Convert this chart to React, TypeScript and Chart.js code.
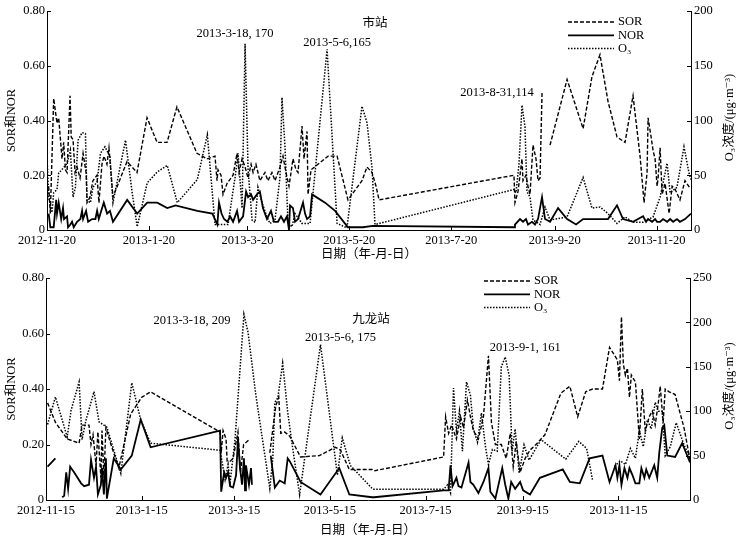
import React, { useEffect, useRef } from 'react';
import { Chart, registerables } from 'chart.js';

Chart.register(...registerables);

type Pt = [number, number | null];

interface Peak {
  text: string;
  day: number;
  value: number;
}

// 市站: x = days since 2012-11-20
const cityTickDays = [0, 61, 120, 181, 242, 304, 365];
const cityTickLabels = ['2012-11-20', '2013-1-20', '2013-3-20', '2013-5-20', '2013-7-20', '2013-9-20', '2013-11-20'];

const citySor: Pt[] = [
  [1, 0.16], [2, 0.06], [4, 0.48], [6, 0.39], [7, 0.41], [9, 0.26], [10, 0.32], [11, 0.22], [12, 0.21],
  [13.8, 0.49], [14.5, 0.34], [15.6, 0.33], [16.8, 0.21], [18, 0.23], [19.8, 0.19], [21.6, 0.28], [23.4, 0.21],
  [24, 0.1], [25.7, 0.12], [27.5, 0.18], [29.9, 0.2], [31.1, 0.1], [32.9, 0.24], [34.1, 0.27], [35.9, 0.24],
  [37.1, 0.3], [39.5, 0.12], [47.9, 0.25], [53.9, 0.21], [59.9, 0.41], [65.9, 0.32], [71.9, 0.32], [77.8, 0.45],
  [89.8, 0.28], [95.8, 0.26], [100.6, 0.27], [101.8, 0.18], [102.4, 0.22], [104.2, 0.2], [105.4, 0.13],
  [107.8, 0.17], [111.4, 0.2], [113.8, 0.28], [115, 0.21], [116.8, 0.26], [118.6, 0.23], [120.4, 0.19],
  [122.2, 0.24], [123.4, 0.21], [125.1, 0.24], [127.5, 0.18], [130.5, 0.21], [132.3, 0.18], [134.7, 0.21],
  [136.5, 0.18], [139.5, 0.23], [141.3, 0.27], [143.1, 0.21], [144.9, 0.16], [146.1, 0.21], [147.3, 0.26],
  [149.1, 0.22], [150.3, 0.21], [152.7, 0.38], [153.9, 0.26], [155.7, 0.36], [156.3, 0.13], [158.1, 0.22],
  [168.3, 0.27], [173.7, 0.27], [180.2, 0.11], [188.6, 0.18], [191.6, 0.23], [194.6, 0.21], [197, 0.16],
  [198.8, 0.11], [279.6, 0.2], [280.2, 0.1], [282, 0.14], [284.4, 0.26], [285, 0.18], [286.8, 0.2], [288, 0.16],
  [289.2, 0.13], [291, 0.31], [292.8, 0.26], [294, 0.18], [295.2, 0.19], [296.4, 0.5], [298, null],
  [301.2, 0.31], [311.4, 0.55], [316.2, 0.46], [321, 0.37], [326.3, 0.56], [331.1, 0.64], [335.9, 0.47],
  [341.3, 0.34], [346.1, 0.32], [350.9, 0.49], [355.1, 0.27], [357.5, 0.1], [359.3, 0.21], [359.9, 0.41],
  [361.7, 0.34], [362.9, 0.29], [364.1, 0.26], [365.3, 0.16], [365.9, 0.19], [367.1, 0.3], [368.3, 0.13],
  [370.1, 0.17], [372.5, 0.06], [374.3, 0.16], [376, 0.15], [379, 0.11], [382, 0.18], [385.3, 0.15],
];

const cityNor: Pt[] = [
  [1, 0.06], [2, 0.01], [4, 0.01], [5.5, 0.11], [6, 0.06], [7, 0.1], [8.5, 0.04], [9.6, 0.08], [10.2, 0.04],
  [12, 0.05], [12.6, 0.01], [14, 0.02], [15, 0.03], [16, 0.01], [18, 0.03], [20, 0.04], [21, 0.07], [21.6, 0.04],
  [23.4, 0.07], [24.6, 0.03], [27, 0.04], [29, 0.04], [30, 0.07], [31, 0.04], [33, 0.08], [34, 0.1], [36, 0.06],
  [37.7, 0.07], [39.5, 0.03], [48, 0.11], [54, 0.06], [60, 0.1], [66, 0.1], [72, 0.08], [77, 0.09], [90, 0.07],
  [99, 0.06], [102, 0.02], [103, 0.1], [104.5, 0.06], [106, 0.04], [108, 0.03], [109.6, 0.05], [111.4, 0.03],
  [113.8, 0.07], [115, 0.03], [117.4, 0.05], [119.2, 0.14], [120.4, 0.12], [122.2, 0.13], [123.4, 0.11],
  [125.7, 0.13], [127.5, 0.14], [129.3, 0.08], [131.7, 0.04], [134.1, 0.07], [135.9, 0.03], [138.3, 0.03],
  [140.1, 0.05], [141.9, 0.03], [143.7, 0.05], [144.9, 0], [145.5, 0.09], [147.3, 0.08], [148.5, 0.03],
  [150.3, 0.04], [153.3, 0.1], [154.5, 0.06], [155.7, 0.04], [157.5, 0.05], [158.7, 0.13], [166.5, 0.1],
  [172.5, 0.07], [180.2, 0.01], [189.2, 0.01], [195, 0.015], [280, 0.01], [280.2, 0.02], [283.2, 0.04],
  [285, 0.03], [286.8, 0.04], [288, 0.02], [290.4, 0.03], [292.2, 0.02], [294, 0.04], [296.4, 0.12],
  [298.2, 0.04], [301.2, 0.03], [306, 0.08], [311.4, 0.04], [316.8, 0.02], [321, 0.04], [331.1, 0.04],
  [335.9, 0.04], [341.3, 0.09], [344.9, 0.04], [350.9, 0.03], [356.9, 0.05], [358.7, 0.03], [359.9, 0.04],
  [362.3, 0.03], [364.1, 0.04], [365.3, 0.03], [367.1, 0.03], [368.9, 0.04], [371.3, 0.03], [373.1, 0.04],
  [374.9, 0.03], [377.2, 0.04], [379, 0.03], [382, 0.04], [385.6, 0.06],
];

const cityO3: Pt[] = [
  [0, 67], [1, 30], [3, 16], [4, 34], [6, 37], [7, 52], [10, 57], [12, 61], [14, 73], [15.6, 30], [17, 39],
  [18.6, 82], [21, 89], [23, 88], [24, 27], [26, 25], [27.5, 39], [30, 44], [32, 70], [34.7, 76], [37.7, 67],
  [39.5, 25], [47, 82], [51, 34], [54, 3], [60, 43], [66, 53], [72, 59], [78, 25], [90, 46], [96, 87],
  [100.6, 5], [103.6, 5], [108.4, 5], [112.6, 48], [114.4, 70], [116.8, 20], [118.6, 170], [120.4, 55],
  [122.8, 9], [124.6, 7], [126.3, 39], [128.7, 25], [131.7, 12], [133.5, 6], [136.5, 9], [139.5, 48],
  [140.7, 121], [142.5, 76], [144.3, 6], [146.7, 3], [148.5, 15], [152.7, 6], [157.5, 6], [167.7, 165],
  [173.7, 6], [179.6, 2], [188.6, 113], [191.6, 98], [194.6, 57], [196.4, 5], [279.6, 37], [280.8, 34],
  [282.6, 60], [284.4, 114], [286.2, 94], [287.4, 35], [289.2, 30], [291, 9], [293.4, 7], [295.2, 5],
  [298.2, 21], [301.2, 9], [311.4, 12], [321, 48], [326.3, 20], [331.1, 21], [335.9, 15], [341.3, 6],
  [346.1, 12], [350.9, 7], [356.9, 7], [362.9, 12], [367.1, 30], [371.3, 61], [373.1, 34], [377.2, 39],
  [381.4, 76], [384.4, 52], [385.6, 46],
];

const cityPeaks: Peak[] = [
  { text: '2013-3-18, 170', day: 118.6, value: 170 },
  { text: '2013-5-6,165', day: 167.7, value: 165 },
  { text: '2013-8-31,114', day: 284.4, value: 114 },
];

// 九龙站: x = days since 2012-11-15
const jlTickDays = [0, 61, 120, 181, 242, 304, 365];
const jlTickLabels = ['2012-11-15', '2013-1-15', '2013-3-15', '2013-5-15', '2013-7-15', '2013-9-15', '2013-11-15'];

const jlSor: Pt[] = [
  [1, 0.35], [6, 0.28], [13.5, 0.22], [21.1, 0.205], [23, 0.27], [27.4, 0.27], [28.7, 0.2], [30, 0.235],
  [31.9, 0.125], [33.1, 0.245], [35, 0.08], [35.7, 0.25], [36.9, 0.08], [38.2, 0.26], [41.4, 0.2],
  [46.4, 0.115], [54, 0.31], [61, 0.37], [66.7, 0.39], [111, 0.245], [111.7, 0.17], [112.9, 0.25],
  [114.8, 0.22], [115.5, 0.14], [117.4, 0.14], [119.3, 0.15], [122.4, 0.245], [124, 0.1], [126, 0.2],
  [130.1, 0.22], [135, null], [142.7, 0.17], [146.5, 0.34], [148.4, 0.37], [149.7, 0.24], [152.2, 0.245],
  [155.4, 0.23], [162.3, 0.155], [174.3, 0.16], [184.5, 0.19], [187.7, 0.18], [193.4, 0.11], [207.9, 0.11],
  [209.2, 0.105], [253.5, 0.155], [254.8, 0.3], [256.7, 0.24], [258.6, 0.27], [261.7, 0.22], [264.3, 0.3],
  [266.2, 0.26], [268.7, 0.36], [270.6, 0.3], [272.5, 0.25], [275.7, 0.22], [278.9, 0.3], [282.1, 0.52],
  [284, 0.28], [286.5, 0.2], [290.3, 0.2], [293.4, 0.15], [296, 0.24], [297.9, 0.12], [299.8, 0.21],
  [302.3, 0.1], [305.5, 0.15], [308.6, 0.18], [312.4, 0.2], [318.1, 0.235], [328.3, 0.385], [334, 0.41],
  [339, 0.3], [344.1, 0.39], [348.5, 0.4], [354.8, 0.4], [359.3, 0.55], [364.3, 0.505], [365.6, 0.43],
  [366.9, 0.66], [368.1, 0.49], [369.4, 0.45], [370.7, 0.475], [372, 0.37], [373.2, 0.45], [375.8, 0.425],
  [378.3, 0.22], [380.2, 0.4], [382.1, 0.25], [384.6, 0.3], [386.6, 0.32], [388.4, 0.27], [390.4, 0.35],
  [391.6, 0.41], [393.5, 0.28], [394.8, 0.4], [397.3, 0.39], [401.1, 0.38], [406.8, 0.26], [410.6, 0.145],
];

const jlNor: Pt[] = [
  [1, 0.12], [6, 0.15], [8, null], [10.3, 0.01], [11.6, 0.015], [12.9, 0.1], [14.1, 0.04], [15.4, 0.12],
  [17.9, 0.1], [22.4, 0.06], [24.3, 0.05], [27.4, 0.055], [28.7, 0.145], [30.6, 0.08], [31.9, 0.12],
  [33.1, 0.02], [35, 0.055], [35.7, 0.115], [36.9, 0.02], [38.2, 0.15], [38.8, 0.005], [43.2, 0.15],
  [47.7, 0.11], [54.7, 0.16], [60.4, 0.29], [66.7, 0.19], [111, 0.25], [111.7, 0.03], [113.6, 0.1],
  [114.8, 0.08], [116.1, 0.1], [117.4, 0.05], [119.3, 0.045], [121.2, 0.09], [122.4, 0.22], [123.7, 0.115],
  [125, 0.055], [126.2, 0.15], [126.9, 0.035], [127.5, 0.125], [129.4, 0.055], [130.7, 0.115], [131.3, 0.055],
  [135, null], [143.3, 0.16], [145.9, 0.045], [149, 0.07], [152.2, 0.06], [154.1, 0.15], [155.4, 0.14],
  [162.3, 0.065], [175, 0.02], [187, 0.115], [193.4, 0.02], [207.9, 0.01], [209.2, 0.01], [253.5, 0.035],
  [256.7, 0.035], [257.9, 0.125], [259.2, 0.05], [261.7, 0.08], [263, 0.05], [264.9, 0.045], [269.4, 0.135],
  [270.6, 0.065], [272.5, 0.055], [275.7, 0.025], [278.9, 0.065], [282.1, 0.115], [283.3, 0.03],
  [286.5, 0.005], [290.9, 0.115], [292.8, 0.055], [294.8, 0.005], [296.6, 0.065], [299.1, 0.04],
  [302.3, 0.065], [304.2, 0.035], [308.6, 0.02], [314.9, 0.08], [329.5, 0.11], [334, 0.065], [340.3, 0.06],
  [346.6, 0.15], [354.8, 0.16], [359.3, 0.065], [363.1, 0.125], [364.3, 0.08], [365.6, 0.125], [366.9, 0.055],
  [368.8, 0.115], [370.7, 0.08], [372, 0.115], [373.9, 0.09], [375.8, 0.06], [378.3, 0.06], [379.6, 0.115],
  [381.5, 0.08], [382.7, 0.11], [384.6, 0.08], [387.8, 0.125], [389.7, 0.08], [391, 0.17], [392.9, 0.26],
  [394.2, 0.27], [396.1, 0.16], [401.1, 0.155], [405.6, 0.205], [410.6, 0.135],
];

const jlO3: Pt[] = [
  [1, 85], [6, 116], [13.5, 71], [16, 101], [21.1, 133], [23, 68], [25.5, 90], [30.6, 122], [33.8, 88],
  [38.8, 82], [47.7, 30], [54.7, 132], [60.4, 90], [66.7, 64], [111, 56], [114.2, 23], [116.1, 40],
  [117.4, 20], [120.5, 68], [126.2, 209], [128.8, 189], [133.8, 118], [142.7, 13], [144.6, 47], [145.9, 110],
  [147.8, 115], [150.9, 154], [154.1, 99], [157.3, 58], [161.7, 6], [175, 175], [185.8, 28], [188.9, 70],
  [194, 39], [207.9, 13], [209.2, 12], [253.5, 12], [256, 17], [257.9, 8], [259.8, 126], [261.7, 78],
  [263.6, 100], [265.5, 55], [268.1, 133], [270.6, 118], [272.5, 80], [275.1, 65], [277.6, 98], [280.2, 60],
  [282.1, 40], [284.6, 57], [287.7, 55], [290.3, 150], [292.8, 161], [295.3, 140], [297.2, 55], [299.1, 80],
  [301.7, 30], [304.8, 62], [308, 45], [315.6, 68], [331.4, 46], [339.7, 66], [344.7, 58], [348.5, 22],
  [355, null], [362.4, 38], [366.2, 44], [369.4, 40], [372.6, 58], [375.8, 47], [378.3, 78], [380.8, 60],
  [383.4, 90], [385.9, 80], [388.4, 110], [390.4, 100], [392.9, 100], [394.8, 50], [398, 60], [401.8, 87],
  [406.8, 62], [410.6, 48],
];

const jlPeaks: Peak[] = [
  { text: '2013-3-18, 209', day: 126.2, value: 209 },
  { text: '2013-5-6, 175', day: 175, value: 175 },
  { text: '2013-9-1, 161', day: 292.8, value: 161 },
];

const FONT = "'Liberation Serif', 'DejaVu Serif', 'Noto Sans CJK SC', serif";

interface PanelProps {
  sor: Pt[];
  nor: Pt[];
  o3: Pt[];
  tickDays: number[];
  tickLabels: string[];
  xMax: number;
  o3Max: number;
  peaks: Peak[];
  peakOffsets: [number, number][];
  station: string;
  stationPos: [number, number];
  legendPos: [number, number];
  top: number;
  height: number;
  padTop: number;
  leftWidth: number;
  rightWidth: number;
  xAxisHeight: number;
  titlePadBottom: number;
}

const toXY = (pts: Pt[]) => pts.map(([x, y]) => ({ x, y }));

const Panel: React.FC<PanelProps> = (p) => {
  const canvasRef = useRef<HTMLCanvasElement>(null);

  useEffect(() => {
    if (!canvasRef.current) return;
    const font = { family: FONT, size: 12.5 };

    const overlay = {
      id: 'overlay',
      afterDraw(chart: any) {
        const ctx = chart.ctx as CanvasRenderingContext2D;
        const xs = chart.scales.x;
        const yl = chart.scales.y;
        const yr = chart.scales.o3;
        const { left, right, top, bottom } = chart.chartArea;
        ctx.save();
        ctx.strokeStyle = '#000';
        ctx.lineWidth = 1;
        // inward tick marks on all three axes
        p.tickDays.forEach((d) => {
          const px = Math.round(xs.getPixelForValue(d)) + 0.5;
          ctx.beginPath();
          ctx.moveTo(px, bottom);
          ctx.lineTo(px, bottom - 4);
          ctx.stroke();
        });
        yl.ticks.forEach((t: any) => {
          const py = Math.round(yl.getPixelForValue(t.value)) + 0.5;
          ctx.beginPath();
          ctx.moveTo(left, py);
          ctx.lineTo(left + 4, py);
          ctx.stroke();
        });
        yr.ticks.forEach((t: any) => {
          const py = Math.round(yr.getPixelForValue(t.value)) + 0.5;
          ctx.beginPath();
          ctx.moveTo(right, py);
          ctx.lineTo(right - 4, py);
          ctx.stroke();
        });
        ctx.fillStyle = '#000';
        ctx.font = `12.5px ${FONT}`;
        ctx.textAlign = 'center';
        ctx.textBaseline = 'middle';
        p.peaks.forEach((pk, i) => {
          const [dx, dy] = p.peakOffsets[i];
          ctx.fillText(pk.text, xs.getPixelForValue(pk.day) + dx, yr.getPixelForValue(pk.value) + dy);
        });
        ctx.fillText(p.station, p.stationPos[0], p.stationPos[1]);
        // right axis title, reading bottom to top
        ctx.save();
        ctx.translate(730, (top + bottom) / 2 - 3);
        ctx.rotate(-Math.PI / 2);
        ctx.fillText('O₃浓度/(μg·m⁻³)', 0, 0);
        ctx.restore();
        // legend
        const [lx, ly] = p.legendPos;
        chart.data.datasets.forEach((ds: any, i: number) => {
          const y = ly + i * 13.3;
          ctx.setLineDash(ds.borderDash || []);
          ctx.lineWidth = ds.borderWidth;
          ctx.beginPath();
          ctx.moveTo(lx, y);
          ctx.lineTo(lx + 46, y);
          ctx.stroke();
          ctx.setLineDash([]);
          ctx.textAlign = 'left';
          ctx.fillText(ds.label, lx + 50, y);
        });
        ctx.restore();
      },
    };

    const chart = new Chart(canvasRef.current, {
      type: 'line',
      data: {
        datasets: [
          {
            label: 'SOR',
            data: toXY(p.sor),
            yAxisID: 'y',
            borderColor: '#000',
            borderWidth: 1.4,
            borderDash: [4, 2],
          },
          {
            label: 'NOR',
            data: toXY(p.nor),
            yAxisID: 'y',
            borderColor: '#000',
            borderWidth: 1.8,
            borderDash: [],
          },
          {
            label: 'O₃',
            data: toXY(p.o3),
            yAxisID: 'o3',
            borderColor: '#000',
            borderWidth: 1.5,
            borderDash: [1.5, 1.5],
          },
        ],
      } as any,
      options: {
        animation: false,
        responsive: true,
        maintainAspectRatio: false,
        spanGaps: false,
        elements: { point: { radius: 0 }, line: { tension: 0 } },
        layout: { padding: { top: p.padTop, left: 0, right: 0, bottom: 0 } },
        plugins: { legend: { display: false }, tooltip: { enabled: false } },
        scales: {
          x: {
            type: 'linear',
            min: 0,
            max: p.xMax,
            afterBuildTicks: (s: any) => {
              s.ticks = p.tickDays.map((v) => ({ value: v }));
            },
            afterFit: (s: any) => {
              s.height = p.xAxisHeight;
            },
            ticks: {
              autoSkip: false,
              maxRotation: 0,
              padding: 3,
              color: '#000',
              font,
              callback: (_v: any, i: number) => p.tickLabels[i],
            },
            grid: { display: true, drawOnChartArea: false, drawTicks: false },
            border: { color: '#000', width: 1 },
            title: {
              display: true,
              text: '日期（年-月-日）',
              color: '#000',
              font,
              padding: { top: 0, bottom: p.titlePadBottom },
            },
          },
          y: {
            position: 'left',
            min: 0,
            max: 0.8,
            afterFit: (s: any) => {
              s.width = p.leftWidth;
            },
            ticks: {
              stepSize: 0.2,
              padding: 2,
              color: '#000',
              font,
              callback: (v: any) => (Number(v) === 0 ? '0' : Number(v).toFixed(2)),
            },
            grid: { display: true, drawOnChartArea: false, drawTicks: false },
            border: { color: '#000', width: 1 },
            title: { display: true, text: 'SOR和NOR', color: '#000', font, padding: { top: 4, bottom: 0 } },
          },
          o3: {
            position: 'right',
            min: 0,
            max: p.o3Max,
            afterFit: (s: any) => {
              s.width = p.rightWidth;
            },
            ticks: { stepSize: 50, padding: 3, color: '#000', font },
            grid: { display: true, drawOnChartArea: false, drawTicks: false },
            border: { color: '#000', width: 1 },
          },
        },
      } as any,
      plugins: [overlay],
    });

    return () => {
      chart.destroy();
    };
  }, [p]);

  return (
    <div style={{ position: 'absolute', left: 0, top: p.top, width: 743, height: p.height }}>
      <canvas ref={canvasRef}></canvas>
    </div>
  );
};

const cityPanel: PanelProps = {
  sor: citySor,
  nor: cityNor,
  o3: cityO3,
  tickDays: cityTickDays,
  tickLabels: cityTickLabels,
  xMax: 385.6,
  o3Max: 200,
  peaks: cityPeaks,
  peakOffsets: [[-10, -10], [10, -7], [-25, -12]],
  station: '市站',
  stationPos: [375, 24],
  legendPos: [568, 22],
  top: 0,
  height: 262,
  padTop: 11,
  leftWidth: 47,
  rightWidth: 52,
  xAxisHeight: 32,
  titlePadBottom: 0,
};

const jlPanel: PanelProps = {
  sor: jlSor,
  nor: jlNor,
  o3: jlO3,
  tickDays: jlTickDays,
  tickLabels: jlTickLabels,
  xMax: 410.6,
  o3Max: 250,
  peaks: jlPeaks,
  peakOffsets: [[-52, 6], [20, -7], [20, -9]],
  station: '九龙站',
  stationPos: [371, 58],
  legendPos: [484, 19],
  top: 262,
  height: 282,
  padTop: 16,
  leftWidth: 46,
  rightWidth: 53,
  xAxisHeight: 44,
  titlePadBottom: 6,
};

const App: React.FC = () => {
  return (
    <div style={{ position: 'absolute', left: 0, top: 0, width: 743, height: 544, background: '#fff' }}>
      <Panel {...cityPanel} />
      <Panel {...jlPanel} />
    </div>
  );
};

export default App;
